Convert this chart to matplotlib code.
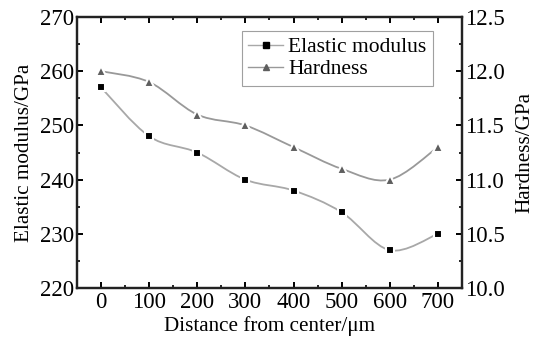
import numpy as np
import matplotlib.pyplot as plt
from matplotlib.path import Path
from matplotlib.patches import PathPatch
from matplotlib.ticker import MultipleLocator

plt.rcParams['font.family'] = ['Liberation Serif', 'DejaVu Serif']

distance = [0, 100, 200, 300, 400, 500, 600, 700]
modulus = [257, 248, 245, 240, 238, 234, 227, 230]      # GPa
hardness = [12.0, 11.9, 11.6, 11.5, 11.3, 11.1, 11.0, 11.3]  # GPa


def smooth_path(x, y):
    # Catmull-Rom segments as cubic Bezier curves through every point
    x = np.asarray(x, float)
    y = np.asarray(y, float)
    pts = np.column_stack([x, y])
    verts = [pts[0]]
    codes = [Path.MOVETO]
    n = len(pts)
    for i in range(n - 1):
        p0 = pts[i - 1] if i > 0 else pts[i]
        p1 = pts[i]
        p2 = pts[i + 1]
        p3 = pts[i + 2] if i + 2 < n else pts[i + 1]
        c1 = p1 + (p2 - p0) / 6.0
        c2 = p2 - (p3 - p1) / 6.0
        verts += [c1, c2, p2]
        codes += [Path.CURVE4] * 3
    return Path(verts, codes)


fig = plt.figure(figsize=(5.36, 3.39), dpi=100)
ax = fig.add_axes([0.1437, 0.150, 0.718, 0.800])
ax2 = ax.twinx()

line_col = '#a8a8a8'
ax.add_patch(PathPatch(smooth_path(distance, modulus), fill=False,
                       edgecolor=line_col, lw=1.3, zorder=2))
ax2.add_patch(PathPatch(smooth_path(distance, hardness), fill=False,
                        edgecolor='#999999', lw=1.3, zorder=2))
ax.plot(distance, modulus, ls='none', marker='s', ms=5.5, color='black',
        mec='white', mew=1.5, zorder=3)
ax2.plot(distance, hardness, ls='none', marker='^', ms=6.5, color='#5e5e5e',
         mec='white', mew=1.5, zorder=3)

# legend proxies
h1, = ax.plot([], [], '-', color=line_col, marker='s', ms=4,
              mfc='black', mec='black', lw=1)
h2, = ax.plot([], [], '-', color='#999999', marker='^', ms=5,
              mfc='#5e5e5e', mec='#5e5e5e', lw=1)
leg = ax.legend([h1, h2], ['Elastic modulus', 'Hardness'], loc='upper right',
                bbox_to_anchor=(0.925, 0.95), fontsize=15.5, frameon=True,
                fancybox=False, edgecolor='#888888', handlelength=1.6,
                handletextpad=0.25, borderpad=0.3, labelspacing=0.1,
                borderaxespad=0)
leg.get_frame().set_linewidth(0.8)

ax.set_xlim(-50, 750)
ax.set_ylim(220, 270)
ax2.set_ylim(10.0, 12.5)
ax.set_xticks(distance)
ax.xaxis.set_minor_locator(MultipleLocator(50))
ax.yaxis.set_major_locator(MultipleLocator(10))
ax.yaxis.set_minor_locator(MultipleLocator(5))
ax2.yaxis.set_major_locator(MultipleLocator(0.5))
ax2.yaxis.set_minor_locator(MultipleLocator(0.25))
ax2.yaxis.set_major_formatter(plt.FormatStrFormatter('%.1f'))

ax.tick_params(axis='both', which='both', direction='in', top=True,
               labelsize=16.5, pad=3)
ax.tick_params(which='major', length=4.5, width=1.4)
ax.tick_params(which='minor', length=2.5, width=1.2)
ax.tick_params(axis='y', right=False, pad=2)
ax2.tick_params(axis='y', which='both', direction='in', labelsize=16.5, pad=2)
ax2.tick_params(which='major', length=4.5, width=1.4)
ax2.tick_params(which='minor', length=2.5, width=1.2)

for a in (ax, ax2):
    for s in a.spines.values():
        s.set_linewidth(1.6)
        s.set_color('#222222')

ax.set_xlabel('Distance from center/\u03bcm', fontsize=15.2, labelpad=2)
ax.set_ylabel('Elastic modulus/GPa', fontsize=15.2, labelpad=4)
ax2.set_ylabel('Hardness/GPa', fontsize=15.2, labelpad=8)

fig.savefig('out.png', dpi=100)
